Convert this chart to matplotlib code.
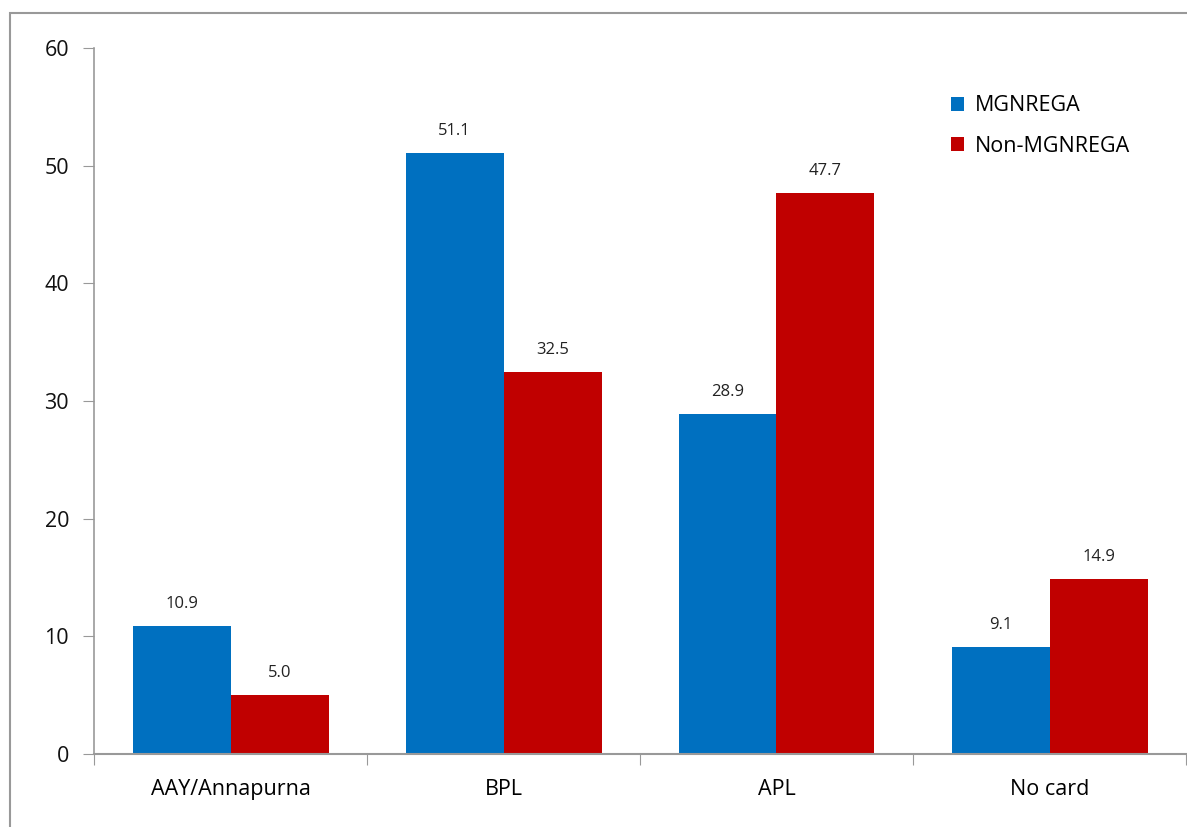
import matplotlib
matplotlib.use("Agg")
import matplotlib.pyplot as plt
from matplotlib.patches import Rectangle
import numpy as np

categories = ["AAY/Annapurna", "BPL", "APL", "No card"]
mgnrega = [10.9, 51.1, 28.9, 9.1]
non_mgnrega = [5.0, 32.5, 47.7, 14.9]
series_names = ["MGNREGA", "Non-MGNREGA"]
colors = ["#0070C0", "#C00000"]

plt.rcParams['font.family'] = ['Open Sans', 'DejaVu Sans']

W, H = 1187, 827
fig = plt.figure(figsize=(W / 100, H / 100), dpi=100)
cw = 273.0
ax = fig.add_axes([94 / W, 1 - 754 / H, 4 * cw / W, (754 - 48) / H])

x = np.arange(len(categories))
bw = 98 / cw
b1 = ax.bar(x - bw / 2, mgnrega, bw, color=colors[0], label=series_names[0])
b2 = ax.bar(x + bw / 2, non_mgnrega, bw, color=colors[1], label=series_names[1])

for bars, vals in ((b1, mgnrega), (b2, non_mgnrega)):
    for r, v in zip(bars, vals):
        ax.annotate(f"{v:.1f}", (r.get_x() + r.get_width() / 2, v),
                    xytext=(0, 10), textcoords="offset points",
                    ha="center", va="bottom", fontsize=12, color="#222222")

ax.set_xlim(-0.5, len(categories) - 0.5)
ax.set_ylim(0, 60)
ax.set_yticks(range(0, 61, 10))
ax.set_xticks(np.arange(len(categories) + 1) - 0.5, minor=False)
ax.set_xticklabels([])
ax.set_xticks(x, minor=True)
ax.set_xticklabels(categories, minor=True, fontsize=15.5)
ax.tick_params(axis='x', which='minor', length=0, pad=18)
ax.tick_params(axis='x', which='major', length=8, color="#999999", direction='out')
ax.tick_params(axis='y', length=8, color="#999999", labelsize=15.5, pad=10)
for t in ax.get_yticklabels():
    t.set_color("#111111")

for s in ["top", "right"]:
    ax.spines[s].set_visible(False)
ax.spines["left"].set_color("#999999")
ax.spines["bottom"].set_color("#999999")
ax.spines["left"].set_linewidth(1.2)
ax.spines["bottom"].set_linewidth(1.5)

leg = ax.legend(loc="upper left", bbox_to_anchor=(932 / W, 1 - 76 / H),
                bbox_transform=fig.transFigure, frameon=False, fontsize=15.5,
                handlelength=0.6, handleheight=0.6, handletextpad=0.5,
                labelspacing=0.9)

fig.patches.append(Rectangle((10 / W, -0.1), 1.2, 1 - 13 / H + 0.1,
                             transform=fig.transFigure, fill=False,
                             edgecolor="#999999", linewidth=1.5))

fig.savefig("out.png", dpi=100)
